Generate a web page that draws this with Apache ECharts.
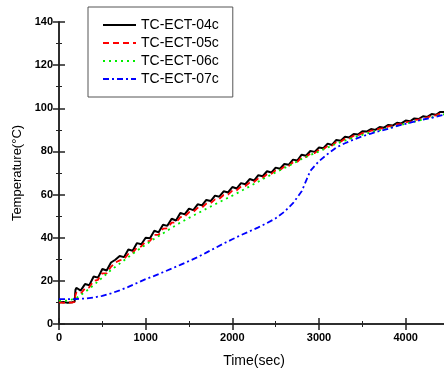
<!DOCTYPE html>
<html><head><meta charset="utf-8">
<script src="https://cdn.jsdelivr.net/npm/echarts@6/dist/echarts.min.js"></script>
<style>html,body{margin:0;padding:0;background:#fff}#c{width:444px;height:374px}</style>
</head><body><div id="c"></div>
<script>
// Time axis (sec) for the fine series (04c, 05c)
const timeFine = [0,50,100,150,180,190,200,250,300,350,400,450,500,550,600,650,700,750,800,850,900,950,
  1000,1050,1100,1150,1200,1250,1300,1350,1400,1450,1500,1550,1600,1650,1700,1750,1800,1850,1900,1950,
  2000,2050,2100,2150,2200,2250,2300,2350,2400,2450,2500,2550,2600,2650,2700,2750,2800,2850,2900,2950,
  3000,3050,3100,3150,3200,3250,3300,3350,3400,3450,3500,3550,3600,3650,3700,3750,3800,3850,3900,3950,
  4000,4050,4100,4150,4200,4250,4300,4350,4400,4450,4500];
const tc04c = [10.0,10.2,9.9,10.1,10.3,15.8,16.8,15.5,18.5,18.0,22.0,21.5,25.5,24.8,28.5,29.8,31.5,31.0,34.5,34.0,37.5,37.0,
  40.0,39.8,43.2,42.5,46.0,45.5,48.8,48.0,51.5,50.8,53.5,52.8,55.5,55.0,57.5,57.0,59.5,59.0,61.5,61.0,
  63.5,62.8,65.3,64.8,67.2,66.5,69.0,68.5,70.8,70.2,72.5,72.0,74.2,73.8,76.2,75.8,78.5,78.0,80.2,79.8,
  81.8,81.5,83.6,83.0,85.3,85.0,86.8,86.5,88.1,87.8,89.3,89.2,90.4,90.0,91.3,91.0,92.3,92.0,93.3,93.0,
  94.3,94.0,95.3,95.0,96.3,96.0,97.3,97.0,98.3,98.3,99.2];
const tc05c = [10.0,9.8,10.0,9.9,10.2,13.5,14.5,14.0,16.5,17.0,20.0,20.5,23.5,23.5,26.5,28.5,29.5,30.0,32.5,33.0,35.5,36.0,
  38.3,38.5,41.3,41.3,44.2,44.3,47.0,47.0,49.5,49.8,51.8,52.0,53.8,54.0,55.8,56.0,57.8,58.0,59.8,60.0,
  61.8,62.0,63.7,64.0,65.6,65.8,67.5,67.8,69.4,69.6,71.2,71.4,73.0,73.2,75.0,75.2,77.3,77.4,79.0,79.2,
  80.8,81.0,82.6,82.7,84.4,84.5,85.9,86.0,87.3,87.4,88.5,88.7,89.6,89.7,90.6,90.7,91.6,91.7,92.6,92.7,
  93.6,93.7,94.6,94.7,95.6,95.7,96.6,96.7,97.6,97.8,98.6];
// Coarse time axis (sec) for 06c, 07c
const timeCoarse = [0,100,200,300,400,500,600,700,800,900,1000,1100,1200,1300,1400,1500,1600,1700,1800,1900,
  2000,2100,2200,2300,2400,2500,2600,2700,2800,2900,3000,3100,3200,3300,3400,3500,3600,3700,3800,3900,
  4000,4100,4200,4300,4400,4500];
const tc06c = [10.8,10.8,12.0,14.8,18.0,21.5,25.0,28.0,31.0,34.0,36.8,39.5,42.0,44.6,47.0,49.2,51.3,53.4,55.5,57.5,
  59.5,61.6,63.8,66.0,68.2,70.3,72.3,74.3,76.5,78.3,80.0,81.8,83.6,85.0,86.4,87.7,88.8,89.8,90.8,91.8,
  92.8,93.8,94.8,95.8,96.8,97.8];
const tc07c = [11.5,11.5,11.6,11.8,12.3,13.0,14.2,15.6,17.2,19.0,20.8,22.3,24.0,25.7,27.4,29.2,31.0,33.1,35.2,37.3,
  39.3,41.2,43.0,44.8,46.8,49.0,52.0,56.0,61.5,71.0,75.5,78.8,81.8,83.8,85.5,87.0,88.3,89.5,90.5,91.8,
  92.8,93.8,94.8,95.6,96.6,97.5];
const seriesNames = ['TC-ECT-04c','TC-ECT-05c','TC-ECT-06c','TC-ECT-07c'];
const xTitle = 'Time(sec)';
const yTitle = 'Temperature(\u00B0C)';

const zip = (t, v) => t.map((x, i) => [x, v[i]]);
const FONT = '"Liberation Sans", Arial, sans-serif';
const axisLine = {show: true, lineStyle: {color: '#222', width: 1.5}};
const tick = {show: true, inside: true, length: 6, lineStyle: {color: '#222', width: 1.5}};
const minor = {show: true, splitNumber: 2, length: 3, lineStyle: {color: '#222', width: 1}};
const chart = echarts.init(document.getElementById('c'), null, {renderer: 'canvas'});
chart.setOption({
  animation: false,
  backgroundColor: '#fff',
  grid: {left: 59, top: 22, right: -5, bottom: 50, containLabel: false, outerBoundsMode: 'none'},
  legend: {
    orient: 'vertical', left: 88, top: 7,
    backgroundColor: '#fff', borderColor: '#555', borderWidth: 1,
    padding: [11, 14, 11, 14], itemWidth: 33, itemHeight: 14, itemGap: 4,
    itemStyle: {opacity: 0},
    textStyle: {fontFamily: FONT, fontSize: 14, color: '#000'},
    data: seriesNames
  },
  xAxis: [{
    type: 'value', min: 0, max: 4500, interval: 1000,
    name: xTitle, nameLocation: 'middle', nameGap: 30,
    nameTextStyle: {fontFamily: FONT, fontSize: 14, color: '#000'},
    axisLine: axisLine, axisTick: tick, minorTick: minor,
    axisLabel: {fontFamily: FONT, fontSize: 11, fontWeight: 'bold', color: '#000', margin: 8,
      showMaxLabel: false, formatter: v => String(v)},
    splitLine: {show: false}
  }, {
    type: 'value', min: 0, max: 4500, interval: 1000, position: 'top',
    axisLine: axisLine, axisTick: tick, minorTick: minor,
    axisLabel: {show: false}, splitLine: {show: false}
  }],
  yAxis: [{
    type: 'value', min: 0, max: 140, interval: 20,
    name: yTitle, nameLocation: 'middle', nameGap: 28, nameRotate: 90,
    nameTextStyle: {fontFamily: FONT, fontSize: 13, color: '#000'},
    axisLine: axisLine, axisTick: tick, minorTick: minor,
    axisLabel: {fontFamily: FONT, fontSize: 11, fontWeight: 'bold', color: '#000', margin: 6,
      formatter: v => String(v)},
    splitLine: {show: false}
  }, {
    type: 'value', min: 0, max: 140, interval: 20, position: 'right',
    axisLine: axisLine, axisTick: tick, minorTick: minor,
    axisLabel: {show: false}, splitLine: {show: false}
  }],
  series: [
    {name: seriesNames[0], type: 'line', symbol: 'none', data: zip(timeFine, tc04c),
     lineStyle: {color: '#000', width: 2, type: 'solid'}, itemStyle: {color: '#000'}},
    {name: seriesNames[1], type: 'line', symbol: 'none', data: zip(timeFine, tc05c),
     lineStyle: {color: '#ff0000', width: 1.8, type: [6, 4]}, itemStyle: {color: '#ff0000'}},
    {name: seriesNames[2], type: 'line', symbol: 'none', data: zip(timeCoarse, tc06c),
     lineStyle: {color: '#00ee00', width: 1.8, type: [2, 4]}, itemStyle: {color: '#00ee00'}},
    {name: seriesNames[3], type: 'line', symbol: 'none', data: zip(timeCoarse, tc07c),
     lineStyle: {color: '#0000ff', width: 1.8, type: [6, 3, 2, 3]}, itemStyle: {color: '#0000ff'}}
  ]
});
</script></body></html>
